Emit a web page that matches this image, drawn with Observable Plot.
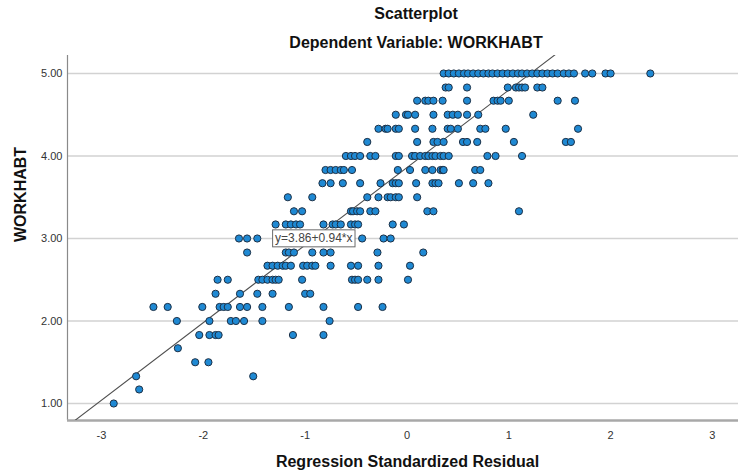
<!DOCTYPE html>
<html><head><meta charset="utf-8">
<script src="https://cdn.jsdelivr.net/npm/d3@7"></script>
<script src="https://cdn.jsdelivr.net/npm/@observablehq/plot@0.6"></script>
<style>
html,body{margin:0;padding:0;background:#fff;}
#wrap{position:relative;width:738px;height:473px;overflow:hidden;background:#fff;}
.ttl{position:absolute;left:416px;transform:translateX(-50%);white-space:nowrap;font-weight:bold;color:#111;line-height:20px;}
#chart{position:absolute;left:0;top:55px;}
</style></head><body>
<div id="wrap"><div class="ttl" id="t1"></div><div class="ttl" id="t2"></div><div id="chart"></div></div>
<script>
// ---- text ----
const chartTitle = "Scatterplot";
const chartSubtitle = "Dependent Variable: WORKHABT";
const xLabel = "Regression Standardized Residual";
const yLabel = "WORKHABT";
const fitLabel = "y=3.86+0.94*x";

// ---- ticks ----
const xTicks = [-3, -2, -1, 0, 1, 2, 3];
const yTicks = [1, 2, 3, 4, 5];

// ---- fit line ----
const fitIntercept = 3.86;
const fitSlope = 0.94;
const fitLabelAtY = 3.0;

// ---- data: WORKHABT levels and the standardized residuals at each level ----
const workhabtLevels = [5.00, 4.83, 4.67, 4.50, 4.33, 4.17, 4.00, 3.83, 3.67, 3.50, 3.33, 3.17, 3.00,
  2.83, 2.67, 2.50, 2.33, 2.17, 2.00, 1.83, 1.67, 1.50, 1.33, 1.17, 1.00];
const residualsByLevel = [
  [0.36,0.41,0.46,0.51,0.56,0.60,0.65,0.70,0.75,0.80,0.84,0.89,0.94,0.99,1.04,1.09,1.13,1.18,1.23,1.28,1.33,1.38,1.43,1.48,1.54,1.59,1.64,1.75,1.82,1.95,2.00,2.39],
  [0.38,0.41,0.59,0.99,1.07,1.10,1.13,1.16,1.28,1.33],
  [0.10,0.18,0.21,0.26,0.35,0.59,0.85,0.89,0.92,1.00,1.48,1.65],
  [-0.11,-0.01,0.01,0.08,0.26,0.40,0.45,0.50,0.59,0.70,1.24],
  [-0.28,-0.21,-0.19,-0.11,-0.08,0.08,0.25,0.40,0.43,0.50,0.72,0.77,0.97,1.68],
  [-0.39,0.10,0.26,0.30,0.36,0.55,0.59,0.69,1.05,1.56,1.61],
  [-0.60,-0.55,-0.51,-0.46,-0.36,-0.31,-0.11,-0.08,0.05,0.08,0.13,0.18,0.21,0.25,0.28,0.33,0.36,0.41,0.79,0.87,1.13],
  [-0.80,-0.75,-0.70,-0.65,-0.62,-0.54,-0.09,0.03,0.18,0.25,0.33,0.35,0.36,0.67,0.72],
  [-0.83,-0.75,-0.63,-0.46,-0.26,-0.14,-0.11,-0.08,0.09,0.25,0.28,0.31,0.51,0.65,0.80],
  [-1.17,-0.93,-0.39,-0.28,-0.19,-0.16,-0.11,-0.08,0.10],
  [-1.11,-1.03,-0.55,-0.53,-0.49,-0.46,-0.36,-0.31,0.20,0.26,1.10],
  [-1.29,-1.19,-1.14,-1.09,-1.05,-0.82,-0.73,-0.70,-0.65,-0.55,-0.51,-0.48,-0.14,-0.03],
  [-1.65,-1.57,-1.47,-0.44,-0.23,-0.16],
  [-1.57,-1.19,-1.16,-1.11,-0.93,-0.82,-0.75,-0.29,0.16],
  [-1.37,-1.32,-1.27,-1.22,-1.19,-1.14,-1.02,-0.98,-0.93,-0.90,-0.75,-0.55,-0.48,-0.28,0.03],
  [-1.86,-1.76,-1.46,-1.42,-1.37,-1.32,-1.29,-1.26,-1.03,-0.54,-0.51,-0.48,-0.39,-0.28,0.01],
  [-1.88,-1.64,-1.47,-1.32,-1.00,-0.95],
  [-2.49,-2.35,-2.01,-1.84,-1.80,-1.76,-1.64,-1.57,-1.42,-1.16,-0.82,-0.48,-0.24],
  [-2.26,-1.94,-1.73,-1.68,-1.60,-1.42,-0.76],
  [-2.04,-1.94,-1.88,-1.85,-1.12,-0.82],
  [-2.25],
  [-2.08,-1.95],
  [-2.66,-1.51],
  [-2.63],
  [-2.88]
];

// ---- font detection (narrow face if present) ----
function hasFont(name) {
  const c = document.createElement("canvas").getContext("2d");
  const s = "WORKHABT Regression 0123456789 mmmwww";
  c.font = "40px monospace"; const a = c.measureText(s).width;
  c.font = `40px "${name}", monospace`; const b = c.measureText(s).width;
  return Math.abs(a - b) > 0.5;
}
const narrowOK = hasFont("Liberation Sans Narrow");
const FAM = narrowOK ? '"Liberation Sans Narrow", "Liberation Sans", Arial, sans-serif' : '"Liberation Sans", Arial, sans-serif';
const k = narrowOK ? 1 / 0.82 : 1;
const titleSize = 16 * k, tickFont = 11 * k, fitFont = 12 * k;

const t1 = document.getElementById("t1"), t2 = document.getElementById("t2");
t1.textContent = chartTitle; t2.textContent = chartSubtitle;
for (const el of [t1, t2]) { el.style.fontFamily = FAM; el.style.fontSize = titleSize + "px"; }
t1.style.top = "4px"; t2.style.top = "33px";

// ---- build table ----
const points = workhabtLevels.flatMap((y, i) => residualsByLevel[i].map(x => ({x, y})));
const xDomain = [-3.334, 3.256];
const yDomain = [0.794, 5.218];
const fitLine = xDomain.map(x => ({x, y: fitIntercept + fitSlope * x}));
const fitLabelPoint = [{x: (fitLabelAtY - fitIntercept) / fitSlope, y: fitLabelAtY, label: fitLabel}];

const chart = Plot.plot({
  width: 738, height: 418,
  marginLeft: 67, marginRight: 0, marginTop: 0, marginBottom: 53,
  style: {fontFamily: FAM, fontSize: tickFont + "px", color: "#333", background: "white", overflow: "visible"},
  x: {domain: xDomain, ticks: xTicks, tickFormat: d => String(d), tickSize: 0, tickPadding: 11, label: null},
  y: {domain: yDomain, ticks: yTicks, tickFormat: d3.format(".2f"), tickSize: 0, tickPadding: 5, label: null},
  marks: [
    Plot.ruleY(yTicks, {stroke: "#d2d2d2", strokeWidth: 1.5}),
    Plot.ruleX([xDomain[0]], {stroke: "#8a8a8a", strokeWidth: 1.2}),
    Plot.ruleY([yDomain[0]], {stroke: "#a8a8a8", strokeWidth: 2.5}),
    Plot.line(fitLine, {x: "x", y: "y", stroke: "#505050", strokeWidth: 1.1, clip: true}),
    Plot.dot(points, {x: "x", y: "y", r: 3.6, fill: "#1f89d3", stroke: "#1c3046", strokeWidth: 1}),
    Plot.text(fitLabelPoint, {x: "x", y: "y", text: "label", fill: "#444", fontSize: fitFont}),
    Plot.text([xLabel], {text: d => d, frameAnchor: "bottom", lineAnchor: "middle", dy: 41, dx: 4.5,
      fontSize: titleSize, fontWeight: "bold", fill: "#111"}),
    Plot.text([yLabel], {text: d => d, frameAnchor: "left", lineAnchor: "middle", rotate: -90, dx: -47, dy: 4,
      fontSize: titleSize, fontWeight: "bold", fill: "#111"})
  ]
});
document.getElementById("chart").appendChild(chart);

// box behind the fit-equation label
for (const t of chart.querySelectorAll("text")) {
  if (t.textContent === fitLabel) {
    const b = t.getBBox();
    const r = document.createElementNS("http://www.w3.org/2000/svg", "rect");
    r.setAttribute("x", b.x - 2.5); r.setAttribute("y", b.y - 1.5);
    r.setAttribute("width", b.width + 5); r.setAttribute("height", b.height + 3);
    r.setAttribute("fill", "white"); r.setAttribute("stroke", "#6a6a6a"); r.setAttribute("stroke-width", 1);
    const tr = t.getAttribute("transform"); if (tr) r.setAttribute("transform", tr);
    t.parentNode.insertBefore(r, t);
  }
}
</script>
</body></html>
